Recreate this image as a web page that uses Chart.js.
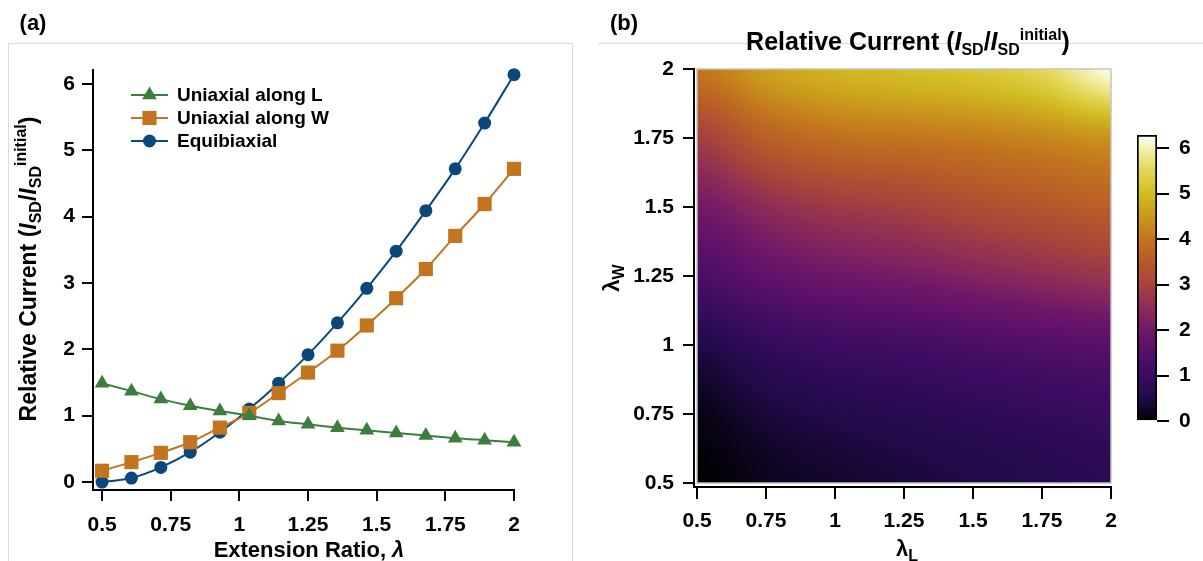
<!DOCTYPE html>
<html><head><meta charset="utf-8">
<script src="https://cdn.jsdelivr.net/npm/chart.js@4/dist/chart.umd.min.js"></script>
<style>
html,body{margin:0;padding:0;background:#fff}
body{width:1203px;height:561px;overflow:hidden;position:relative;font-family:"Liberation Sans",Arial,Helvetica,sans-serif;color:#000}
canvas{position:absolute;top:0}
.t{position:absolute;white-space:nowrap;font-weight:bold;line-height:1;transform:translate(-50%,-50%)}
.sb{font-size:16px;position:relative;top:5px}
.sp{font-size:16px;position:relative;top:-10px}
.fr{position:absolute;background:#dcdcdc}
</style></head><body>
<div class="fr" style="left:8px;top:43px;width:565px;height:1px"></div>
<div class="fr" style="left:8px;top:43px;width:1px;height:518px"></div>
<div class="fr" style="left:572px;top:43px;width:1px;height:518px"></div>
<div class="fr" style="left:598px;top:43px;width:605px;height:1px"></div>
<canvas id="lineChart" width="600" height="561" style="left:0"></canvas>
<canvas id="heatChart" width="560" height="561" style="left:600px"></canvas>
<canvas id="barChart" width="83" height="561" style="left:1120px"></canvas>
<div class="t" style="left:33px;top:23px;font-size:22px">(a)</div>
<div class="t" style="left:624px;top:23px;font-size:22px">(b)</div>
<div class="t" style="left:309px;top:550px;font-size:22px">Extension Ratio, <i>λ</i></div>
<div class="t" style="left:28px;top:269px;font-size:23px;transform:translate(-50%,-50%) rotate(-90deg)">Relative Current (<i>I</i><span class="sb">SD</span>/<i>I</i><span class="sb">SD</span><span class="sp">initial</span>)</div>
<div class="t" style="left:908px;top:41px;font-size:25px">Relative Current (<i>I</i><span class="sb">SD</span>/<i>I</i><span class="sb">SD</span><span class="sp">initial</span>)</div>
<div class="t" style="left:612px;top:278px;font-size:22px;transform:translate(-50%,-50%) rotate(-90deg)">λ<span class="sb">W</span></div>
<div class="t" style="left:907px;top:549px;font-size:22px">λ<span class="sb">L</span></div>
<script>
// ---------- data ----------
const extensionRatio = [0.5, 0.607, 0.714, 0.821, 0.929, 1.036, 1.143, 1.25, 1.357, 1.464, 1.571, 1.679, 1.786, 1.893, 2.0];
const uniaxialAlongL = [1.49, 1.37, 1.25, 1.15, 1.07, 1.00, 0.92, 0.87, 0.82, 0.78, 0.74, 0.70, 0.66, 0.63, 0.60];
const uniaxialAlongW = [0.17, 0.30, 0.44, 0.60, 0.82, 1.04, 1.34, 1.65, 1.98, 2.36, 2.77, 3.21, 3.71, 4.19, 4.72];
const equibiaxial    = [0.00, 0.06, 0.22, 0.45, 0.75, 1.10, 1.49, 1.92, 2.40, 2.92, 3.48, 4.09, 4.72, 5.41, 6.14];
const seriesNames = ['Uniaxial along L', 'Uniaxial along W', 'Equibiaxial'];
const lineXTicks = [0.5, 0.75, 1, 1.25, 1.5, 1.75, 2];
const lineYTicks = [0, 1, 2, 3, 4, 5, 6];

const heatLambdaL = [0.5, 0.75, 1, 1.25, 1.5, 1.75, 2];
const heatLambdaW = [0.5, 0.75, 1, 1.25, 1.5, 1.75, 2];
const heatValues = [            // one row per λW (ascending), columns follow λL
  [0.00, 0.20, 0.30, 0.40, 0.50, 0.60, 0.70],
  [0.15, 0.40, 0.55, 0.65, 0.75, 0.85, 0.95],
  [0.50, 0.85, 1.05, 1.15, 1.30, 1.45, 1.55],
  [1.30, 1.70, 1.95, 2.10, 2.30, 2.50, 2.70],
  [2.00, 2.50, 2.80, 2.95, 3.20, 3.40, 3.60],
  [2.90, 3.60, 3.90, 4.00, 4.10, 4.25, 4.45],
  [4.00, 4.60, 4.90, 5.05, 5.20, 5.50, 6.25]
];
const heatTicks = [0.5, 0.75, 1, 1.25, 1.5, 1.75, 2];
const colorbarTicks = [0, 1, 2, 3, 4, 5, 6];
const colorbarMax = 6.29;

// ---------- styles ----------
const FONT = '"Liberation Sans", Arial, Helvetica, sans-serif';
const TICK_FONT = {family: FONT, size: 21, weight: 'bold'};
const seriesColors = ['#3d7d3d', '#c2741e', '#0c477c'];
const cmapValues = [0, 0.5, 1, 1.5, 2, 2.5, 3, 3.5, 4, 4.5, 5, 5.5, 6, 6.29];
const cmapColors = ['#000000', '#200a48', '#3a0c61', '#550f69', '#701868', '#8e2c58', '#a6443c', '#b65a2a', '#c2741e', '#ca981c', '#d2bc22', '#e2d656', '#f4f0b0', '#ffffff'];

function hexRgb(h){ return [parseInt(h.slice(1,3),16), parseInt(h.slice(3,5),16), parseInt(h.slice(5,7),16)]; }
const cmapRgb = cmapColors.map(hexRgb);
function colorFor(v){
  if (v <= cmapValues[0]) return cmapRgb[0];
  for (let i = 1; i < cmapValues.length; i++) {
    if (v <= cmapValues[i]) {
      const t = (v - cmapValues[i-1]) / (cmapValues[i] - cmapValues[i-1]);
      const a = cmapRgb[i-1], b = cmapRgb[i];
      return [a[0] + (b[0]-a[0])*t, a[1] + (b[1]-a[1])*t, a[2] + (b[2]-a[2])*t];
    }
  }
  return cmapRgb[cmapRgb.length-1];
}
const fixedTicks = list => scale => { scale.ticks = list.map(v => ({value: v})); };
const tickGrid = len => ({drawOnChartArea: false, drawTicks: true, tickLength: len, color: '#000', lineWidth: 2});
const axisBorder = {display: true, color: '#000', width: 2};
const noPlugins = {legend: {display: false}, tooltip: {enabled: false}};

// ---------- (a) line chart ----------
const legendPlugin = {
  id: 'insideLegend',
  afterDraw(chart) {
    const ctx = chart.ctx;
    chart.data.datasets.forEach((ds, i) => {
      const y = 95 + i * 23;
      ctx.save();
      ctx.strokeStyle = ds.borderColor; ctx.fillStyle = ds.backgroundColor; ctx.lineWidth = 2;
      ctx.beginPath(); ctx.moveTo(131, y); ctx.lineTo(168, y); ctx.stroke();
      Chart.helpers.drawPoint(ctx, {pointStyle: ds.pointStyle, radius: ds.pointRadius, borderWidth: 0, rotation: 0}, 149.5, y);
      ctx.fillStyle = '#000'; ctx.font = 'bold 19px ' + FONT; ctx.textBaseline = 'middle'; ctx.textAlign = 'left';
      ctx.fillText(ds.label, 177, y + 1);
      ctx.restore();
    });
  }
};
const pointStyles = ['triangle', 'rect', 'circle'];
const pointSizes = [8.5, 10, 6.5];
const seriesValues = [uniaxialAlongL, uniaxialAlongW, equibiaxial];
new Chart(document.getElementById('lineChart'), {
  type: 'line',
  data: {
    datasets: seriesValues.map((vals, s) => ({
      label: seriesNames[s],
      data: extensionRatio.map((x, i) => ({x: x, y: vals[i]})),
      borderColor: seriesColors[s], backgroundColor: seriesColors[s],
      borderWidth: 2, pointStyle: pointStyles[s], pointRadius: pointSizes[s],
      pointBorderWidth: 0, cubicInterpolationMode: 'monotone', clip: false
    }))
  },
  options: {
    responsive: false, animation: false, events: [],
    layout: {padding: {left: 0, right: 86, top: 70, bottom: 0}},
    plugins: noPlugins,
    scales: {
      x: {type: 'linear', min: 0.467, max: 2.0, afterBuildTicks: fixedTicks(lineXTicks),
          afterFit: s => { s.height = 71; }, grid: tickGrid(11), border: axisBorder,
          ticks: {font: TICK_FONT, color: '#000', padding: 12, maxRotation: 0, autoSkip: false, callback: v => String(v)}},
      y: {type: 'linear', min: -0.12, max: 6.21, afterBuildTicks: fixedTicks(lineYTicks),
          afterFit: s => { s.width = 93; }, grid: tickGrid(11), border: axisBorder,
          ticks: {font: TICK_FONT, color: '#000', padding: 7, autoSkip: false, callback: v => String(v)}}
    }
  },
  plugins: [legendPlugin]
});

// ---------- (b) heat map ----------
const heatPoints = [];
heatLambdaW.forEach((w, j) => heatLambdaL.forEach((l, i) => heatPoints.push({x: l, y: w, v: heatValues[j][i]})));

function cubic1(p0, p1, p2, p3, t) {
  return p1 + 0.5 * t * (p2 - p0 + t * (2*p0 - 5*p1 + 4*p2 - p3 + t * (3*(p1 - p2) + p3 - p0)));
}
function sampleGrid(grid, fx, fy) {   // smooth (Catmull-Rom) reconstruction for display
  const ny = grid.length, nx = grid[0].length;
  const ix = Math.min(Math.floor(fx), nx - 2), iy = Math.min(Math.floor(fy), ny - 2);
  const tx = fx - ix, ty = fy - iy;
  const g = (j, i) => grid[Math.max(0, Math.min(ny-1, j))][Math.max(0, Math.min(nx-1, i))];
  const rows = [];
  for (let k = -1; k <= 2; k++) rows.push(cubic1(g(iy+k, ix-1), g(iy+k, ix), g(iy+k, ix+1), g(iy+k, ix+2), tx));
  return cubic1(rows[0], rows[1], rows[2], rows[3], ty);
}
const heatPlugin = {
  id: 'heatmap',
  beforeDatasetsDraw(chart) {
    const pts = chart.data.datasets[0].data;
    const xs = [...new Set(pts.map(p => p.x))].sort((a, b) => a - b);
    const ys = [...new Set(pts.map(p => p.y))].sort((a, b) => a - b);
    const grid = ys.map(() => xs.map(() => 0));
    pts.forEach(p => { grid[ys.indexOf(p.y)][xs.indexOf(p.x)] = p.v; });
    const sx = chart.scales.x, sy = chart.scales.y;
    const L = Math.round(sx.getPixelForValue(xs[0])), R = Math.round(sx.getPixelForValue(xs[xs.length-1]));
    const T = Math.round(sy.getPixelForValue(ys[ys.length-1])), B = Math.round(sy.getPixelForValue(ys[0]));
    const w = R - L, h = B - T;
    const ctx = chart.ctx;
    const img = ctx.createImageData(w, h);
    const dx = xs[1] - xs[0], dy = ys[1] - ys[0];
    const lo = Math.min(...pts.map(p => p.v)), hi = Math.max(...pts.map(p => p.v));
    for (let py = 0; py < h; py++) {
      const yv = sy.getValueForPixel(T + py + 0.5);
      const fy = Math.max(0, Math.min(ys.length - 1, (yv - ys[0]) / dy));
      for (let px = 0; px < w; px++) {
        const xv = sx.getValueForPixel(L + px + 0.5);
        const fx = Math.max(0, Math.min(xs.length - 1, (xv - xs[0]) / dx));
        let v = sampleGrid(grid, fx, fy);
        v = Math.max(lo, Math.min(hi, v));
        const c = colorFor(v), k = (py * w + px) * 4;
        img.data[k] = c[0]; img.data[k+1] = c[1]; img.data[k+2] = c[2]; img.data[k+3] = 255;
      }
    }
    ctx.putImageData(img, L, T);
    ctx.save(); ctx.strokeStyle = '#c4c4c4'; ctx.lineWidth = 1.5; ctx.strokeRect(L, T, w, h); ctx.restore();
  }
};
new Chart(document.getElementById('heatChart'), {
  type: 'scatter',
  data: {datasets: [{data: heatPoints, pointRadius: 0, clip: false}]},
  options: {
    responsive: false, animation: false, events: [],
    layout: {padding: {left: 0, right: 49, top: 69, bottom: 0}},
    plugins: noPlugins,
    scales: {
      x: {type: 'linear', min: 0.489, max: 2.0, afterBuildTicks: fixedTicks(heatTicks),
          afterFit: s => { s.height = 74; }, grid: tickGrid(12), border: axisBorder,
          ticks: {font: TICK_FONT, color: '#000', padding: 10, maxRotation: 0, autoSkip: false, callback: v => String(v)}},
      y: {type: 'linear', min: 0.4855, max: 2.0, afterBuildTicks: fixedTicks(heatTicks),
          afterFit: s => { s.width = 94; }, grid: tickGrid(11), border: axisBorder,
          ticks: {font: TICK_FONT, color: '#000', padding: 9, autoSkip: false, callback: v => String(v)}}
    }
  },
  plugins: [heatPlugin]
});

// ---------- colour bar ----------
new Chart(document.getElementById('barChart'), {
  type: 'bar',
  data: {labels: ['scale'], datasets: [{
    data: [[0, colorbarMax]],
    backgroundColor(c) {
      const ch = c.chart, y = ch.scales.y;
      if (!ch.chartArea || !y) return '#000';
      const g = ch.ctx.createLinearGradient(0, y.getPixelForValue(0), 0, y.getPixelForValue(colorbarMax));
      cmapValues.forEach((v, i) => g.addColorStop(Math.min(1, v / colorbarMax), cmapColors[i]));
      return g;
    },
    borderColor: '#000', borderWidth: 2, borderSkipped: false, barPercentage: 1, categoryPercentage: 1
  }]},
  options: {
    responsive: false, animation: false, events: [],
    layout: {padding: {left: 17, right: 0, top: 135, bottom: 140}},
    plugins: noPlugins,
    scales: {
      x: {display: false},
      y: {position: 'right', min: 0, max: colorbarMax, afterBuildTicks: fixedTicks(colorbarTicks),
          afterFit: s => { s.width = 46; }, grid: tickGrid(12), border: {display: false},
          ticks: {font: TICK_FONT, color: '#000', padding: 10, autoSkip: false, callback: v => String(v)}}
    }
  }
});
</script>
</body></html>
